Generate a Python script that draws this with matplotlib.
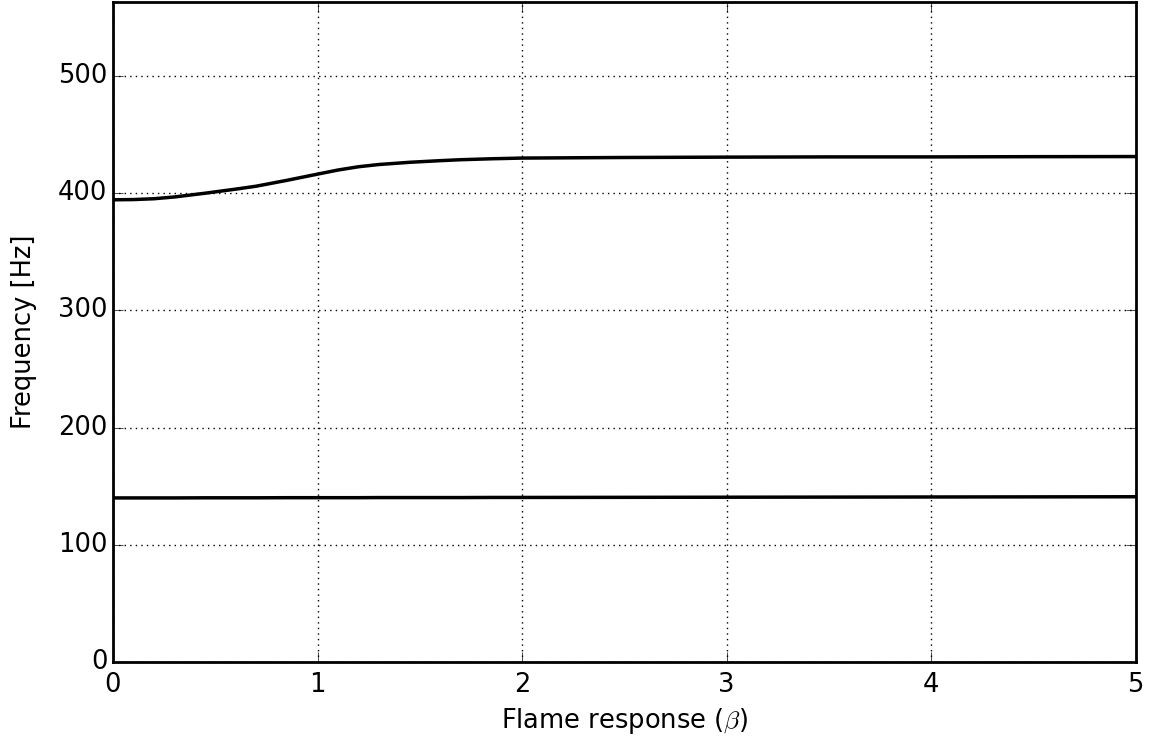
import numpy as np
import matplotlib
matplotlib.use("Agg")
import matplotlib.pyplot as plt

# flame response values and the two frequency branches
beta = [0.0, 0.1, 0.2, 0.3, 0.45, 0.6, 0.7, 0.85, 1.0, 1.1, 1.2, 1.3, 1.45, 1.6, 1.7, 1.85,
        2.0, 2.5, 3.0, 3.5, 4.0, 4.5, 5.0]
f_upper = [394.4, 394.6, 395.3, 396.8, 400.0, 403.5, 406.0, 411.0, 416.3, 419.8, 422.6, 424.5,
           426.4, 427.8, 428.6, 429.4, 430.0, 430.5, 430.8, 431.0, 431.0, 431.2, 431.3]
f_lower = [140.0, 140.0, 140.0, 140.0, 140.1, 140.1, 140.1, 140.2, 140.2, 140.2, 140.2, 140.3,
           140.3, 140.3, 140.3, 140.4, 140.4, 140.5, 140.6, 140.7, 140.8, 140.9, 141.0]

plt.style.use('classic')
plt.rcParams['font.family'] = 'DejaVu Sans'

fig = plt.figure(figsize=(11.53, 7.38), dpi=100)
ax = fig.add_axes([0.098, 0.103, 0.887, 0.894])
ax.plot(beta, f_upper, color='black', linewidth=2.5)
ax.plot(beta, f_lower, color='black', linewidth=2.5)

ax.set_xlim(0, 5)
ax.set_ylim(0, 563)
ax.set_xticks([0, 1, 2, 3, 4, 5])
ax.set_yticks([0, 100, 200, 300, 400, 500])
ax.tick_params(labelsize=18.5, direction='in', length=7)
ax.tick_params(axis='x', pad=7)
ax.tick_params(axis='y', pad=4)
ax.grid(True, linestyle=':', color='black', linewidth=1)
for s in ax.spines.values():
    s.set_linewidth(2)

ax.set_xlabel(r'Flame response ($\beta$)', fontsize=18.5, labelpad=6)
ax.set_ylabel('Frequency [Hz]', fontsize=18.5, labelpad=15)

fig.savefig('out.png', dpi=100, facecolor='white')
